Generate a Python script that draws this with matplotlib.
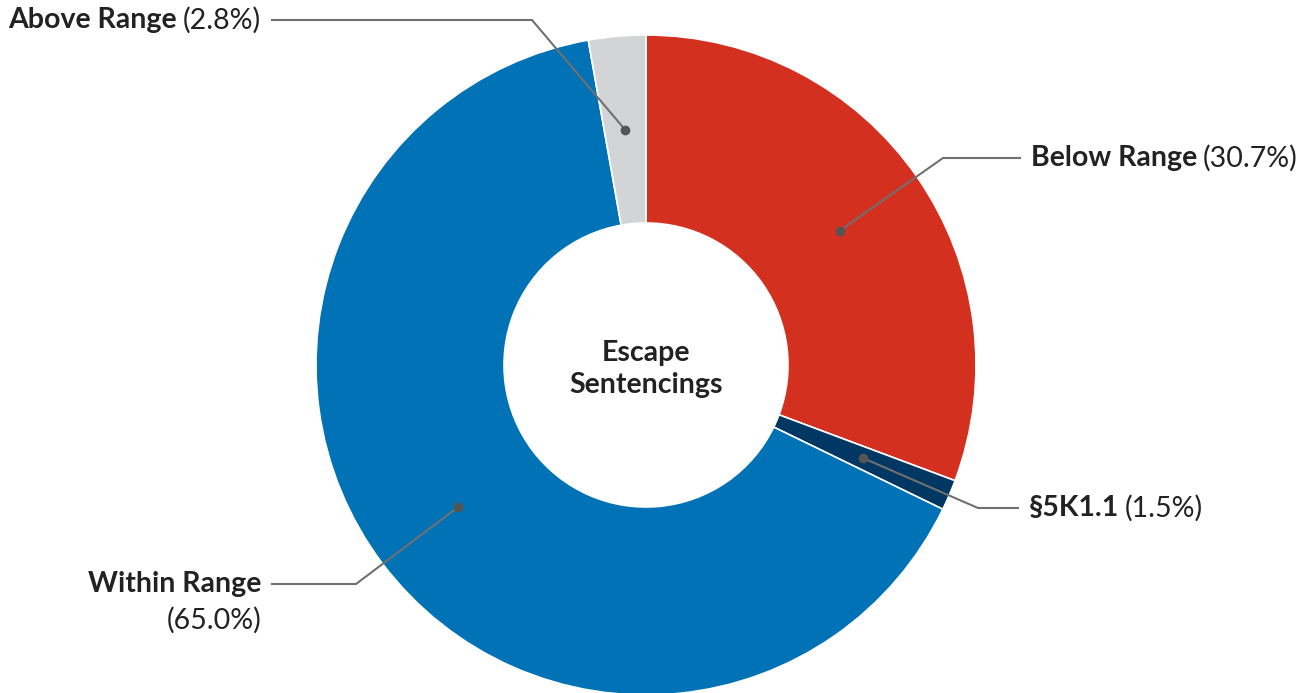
import numpy as np
import matplotlib
matplotlib.use("Agg")
import matplotlib.pyplot as plt

plt.rcParams['font.family'] = ['Lato', 'DejaVu Sans']

labels = ['Below Range', '§5K1.1', 'Within Range', 'Above Range']
shares = [30.7, 1.5, 65.0, 2.8]
colors = ['#D33020', '#003763', '#0072B5', '#D3D4D6']
center_title = 'Escape\nSentencings'

W, H = 1314, 693
FS = 20.5
INK = '#222222'
fig = plt.figure(figsize=(W / 100, H / 100), dpi=100)
ax = fig.add_axes([0, 0, 1, 1])

cx, cy = 646, H - 365
r_out, r_in = 330, 142
ring = r_out - r_in

wedges, _ = ax.pie(shares, colors=colors, startangle=90, counterclock=False,
                   radius=r_out, center=(cx, cy), frame=True,
                   wedgeprops=dict(width=ring, edgecolor='white', linewidth=1.2))
ax.set_xlim(0, W)
ax.set_ylim(0, H)
ax.set_aspect('equal')
ax.axis('off')

ax.text(cx, cy - 4, center_title, ha='center', va='center', fontsize=FS,
        fontweight='bold', color=INK, linespacing=1.32)

# leader elbows and label anchors (pixel positions, y measured from top)
leaders = {
    'Below Range': ((943, 158), (1020, 158), 'left'),
    '§5K1.1': ((978, 508), (1018, 508), 'left'),
    'Within Range': ((356, 584), (272, 584), 'right'),
    'Above Range': ((532, 20), (272, 20), 'right'),
}

r_mid = (r_out + r_in) / 2
for w, lab, val in zip(wedges, labels, shares):
    ang = np.deg2rad((w.theta1 + w.theta2) / 2)
    px, py = cx + r_mid * np.cos(ang), cy + r_mid * np.sin(ang)
    (ex, ey), (hx, hy), side = leaders[lab]
    ey, hy = H - ey, H - hy
    ax.plot([px, ex, hx], [py, ey, hy], color='#707070', lw=1.5,
            solid_joinstyle='miter', zorder=5)
    ax.plot(px, py, 'o', color='#555555', ms=6, zorder=6)

    tx = hx + 11 if side == 'left' else hx - 11
    pct = f'({val:.1f}%)'
    if lab == 'Within Range':
        ax.text(tx, hy, lab, ha='right', va='center', fontsize=FS,
                fontweight='bold', color=INK)
        ax.text(tx, hy - 36, pct, ha='right', va='center', fontsize=FS,
                color=INK)
    elif side == 'left':
        t1 = ax.text(tx, hy, lab, ha='left', va='center', fontsize=FS,
                     fontweight='bold', color=INK)
        fig.canvas.draw()
        bb = t1.get_window_extent().transformed(ax.transData.inverted())
        ax.text(bb.x1 + 6, hy, pct, ha='left', va='center', fontsize=FS,
                color=INK)
    else:
        t2 = ax.text(tx, hy, pct, ha='right', va='center', fontsize=FS,
                     color=INK)
        fig.canvas.draw()
        bb2 = t2.get_window_extent().transformed(ax.transData.inverted())
        ax.text(bb2.x0 - 6, hy, lab, ha='right', va='center', fontsize=FS,
                fontweight='bold', color=INK)

fig.savefig('out.png', dpi=100)
